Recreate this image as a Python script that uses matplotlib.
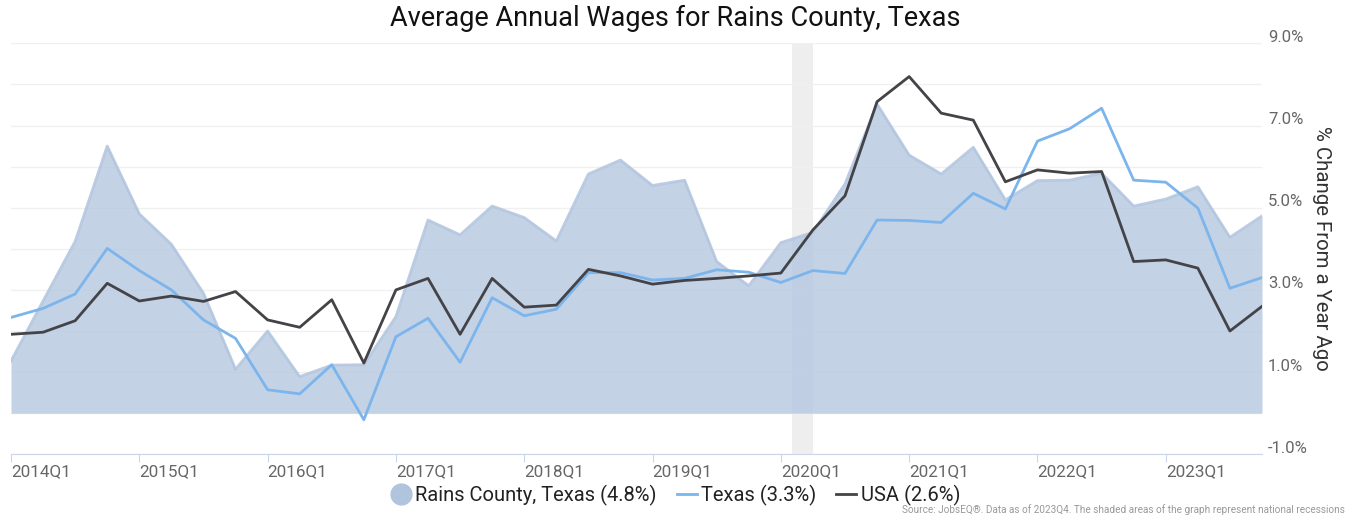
import matplotlib
matplotlib.use("Agg")
import matplotlib.pyplot as plt
from matplotlib.lines import Line2D
from matplotlib import transforms
import numpy as np

plt.rcParams['font.family'] = ['Roboto', 'DejaVu Sans']

# quarters 2014Q1 .. 2023Q4
quarters = [f"{y}Q{q}" for y in range(2014, 2024) for q in range(1, 5)]

rains = [1.27, 2.73, 4.18, 6.50, 4.85, 4.11, 2.92, 1.07, 2.00, 0.89,
         1.17, 1.18, 2.35, 4.70, 4.34, 5.04, 4.76, 4.19, 5.82, 6.16,
         5.54, 5.67, 3.69, 3.10, 4.15, 4.40, 5.58, 7.52, 6.28, 5.82,
         6.47, 5.19, 5.66, 5.67, 5.84, 5.04, 5.21, 5.51, 4.28, 4.80]
texas = [2.33, 2.55, 2.90, 4.01, 3.47, 3.00, 2.27, 1.82, 0.57, 0.47,
         1.18, -0.16, 1.86, 2.31, 1.24, 2.81, 2.37, 2.53, 3.42, 3.42,
         3.24, 3.28, 3.49, 3.43, 3.18, 3.47, 3.40, 4.70, 4.69, 4.64,
         5.35, 4.97, 6.62, 6.92, 7.42, 5.67, 5.62, 4.99, 3.04, 3.30]
usa = [1.92, 1.97, 2.25, 3.16, 2.73, 2.85, 2.72, 2.96, 2.27, 2.09,
       2.76, 1.22, 3.00, 3.28, 1.92, 3.28, 2.58, 2.63, 3.50, 3.34,
       3.14, 3.23, 3.28, 3.34, 3.41, 4.46, 5.29, 7.58, 8.19, 7.30,
       7.13, 5.63, 5.92, 5.84, 5.88, 3.69, 3.73, 3.53, 2.00, 2.60]

series_names = ["Rains County, Texas", "Texas", "USA"]
recession = [(2020, 2), (2020, 4)]  # (year, month) start / end
y_ticks = [-1, 1, 3, 5, 7, 9]

fill_color = "#b0c4de"
tx_color = "#7cb5ec"
usa_color = "#434348"
label_color = "#666666"


def q_index(year, month):
    return (year - 2014) * 4 + (month - 1) / 3


W, H = 1351, 516
fig = plt.figure(figsize=(W / 100, H / 100), dpi=100, facecolor="white")
ax = fig.add_axes([11 / W, (H - 454.3) / H, (1262 - 11) / W, (454.3 - 43.3) / H])
x = np.arange(len(quarters))

# recession band
r0 = q_index(*recession[0])
r1 = q_index(*recession[1])
ax.axvspan(r0, r1, color="#eeeeee", zorder=0, linewidth=0)

ax.fill_between(x, rains, 0, color=fill_color, alpha=0.75, linewidth=0, zorder=1)
ax.plot(x, rains, color=fill_color, linewidth=2, alpha=0.85, zorder=2)
ax.plot(x, texas, color=tx_color, linewidth=2, zorder=3)
ax.plot(x, usa, color=usa_color, linewidth=2, zorder=4)

ax.set_xlim(0, len(quarters) - 1)
ax.set_ylim(-1, 9)

# grid every 1 %
ax.set_yticks(np.arange(-1, 10, 1))
ax.yaxis.grid(True, color="#f0f0f0", linewidth=1)
ax.set_axisbelow(True)
ax.tick_params(axis="y", length=0, labelleft=False, labelright=False)

label_off = transforms.ScaledTranslation(6 / 100, 6 / 100, fig.dpi_scale_trans)
for v in y_ticks:
    ax.text(1, v, f"{v:.1f}%", transform=transforms.blended_transform_factory(ax.transAxes, ax.transData) + label_off,
            ha="left", va="center", fontsize=12, color=label_color)

ax.text(1.0475, 0.5, "% Change From a Year Ago", transform=ax.transAxes, rotation=270,
        ha="center", va="center", fontsize=14.7, color="#333333")

for s in ["top", "left", "right"]:
    ax.spines[s].set_visible(False)
ax.spines["bottom"].set_color("#ccd6eb")
ax.spines["bottom"].set_position(("data", -1))

xt = x[::4]
ax.set_xticks(xt)
ax.set_xticklabels([quarters[i] for i in xt], ha="left", fontsize=12.3, color=label_color)
ax.tick_params(axis="x", length=6, color="#ccd6eb", pad=1)

fig.text(0.5, 1 - 18 / H, "Average Annual Wages for Rains County, Texas", ha="center", va="center",
         fontsize=19.5, color="#111111")

handles = [
    Line2D([], [], marker="o", linestyle="none", markersize=15, color=fill_color),
    Line2D([], [], color=tx_color, linewidth=2),
    Line2D([], [], color=usa_color, linewidth=2),
]
labels = [f"{series_names[0]} ({rains[-1]:.1f}%)", f"{series_names[1]} ({texas[-1]:.1f}%)",
          f"{series_names[2]} ({usa[-1]:.1f}%)"]
fig.legend(handles, labels, loc="center", bbox_to_anchor=(0.5, 1 - 495 / H), ncol=3, frameon=False,
           fontsize=14.5, handlelength=1.0, handletextpad=0.2, columnspacing=1.0, labelcolor="#222222")

fig.text(1345 / W, 1 / H,
         "Source: JobsEQ\u00ae. Data as of 2023Q4. The shaded areas of the graph represent national recessions",
         ha="right", va="bottom", fontsize=7.2, color="#999999")

fig.savefig("out.png", dpi=100, facecolor="white")
